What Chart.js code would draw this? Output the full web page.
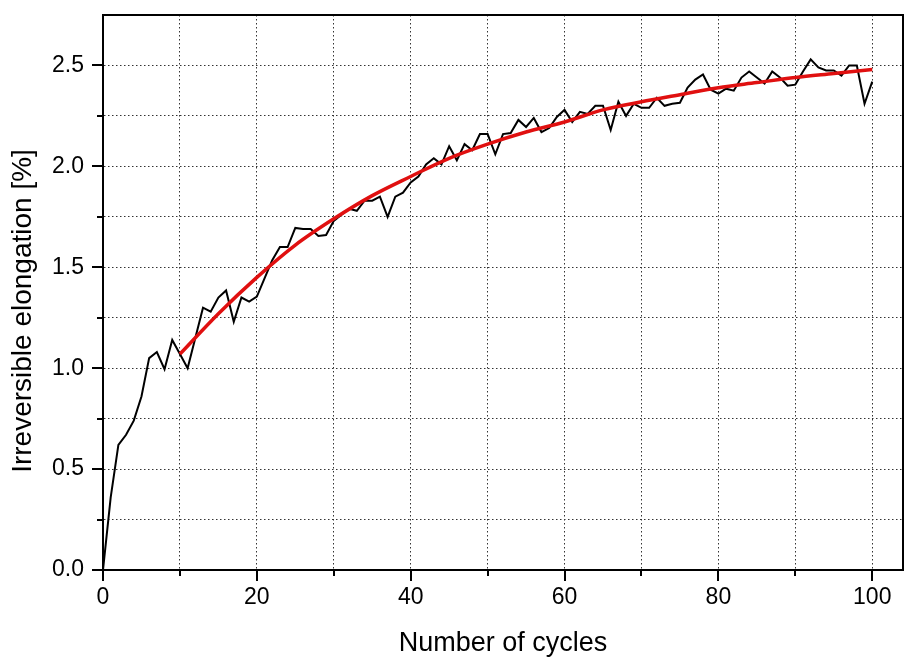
<!DOCTYPE html>
<html>
<head>
<meta charset="utf-8">
<title>Irreversible elongation</title>
<script src="https://cdn.jsdelivr.net/npm/chart.js@4.4.1/dist/chart.umd.min.js"></script>
<style>
    html, body { margin: 0; padding: 0; background: #fff; }
    #wrap { width: 907px; height: 666px; }
</style>
</head>
<body>
<div id="wrap"><canvas id="chart" width="907" height="666"></canvas></div>
<script>
// ==========================================
// Data
// ==========================================
const cycles = [
    0, 1, 2, 3, 4, 5, 6, 7, 8, 9, 10, 11, 12, 13, 14, 15, 16, 17, 18, 19,
    20, 21, 22, 23, 24, 25, 26, 27, 28, 29, 30, 31, 32, 33, 34, 35, 36, 37, 38, 39,
    40, 41, 42, 43, 44, 45, 46, 47, 48, 49, 50, 51, 52, 53, 54, 55, 56, 57, 58, 59,
    60, 61, 62, 63, 64, 65, 66, 67, 68, 69, 70, 71, 72, 73, 74, 75, 76, 77, 78, 79,
    80, 81, 82, 83, 84, 85, 86, 87, 88, 89, 90, 91, 92, 93, 94, 95, 96, 97, 98, 99, 100
];
const elongation = [
    0.00, 0.36, 0.62, 0.67, 0.74, 0.86, 1.05, 1.08, 0.995, 1.14,
    1.07, 1.00, 1.15, 1.30, 1.28, 1.35, 1.385, 1.23, 1.35, 1.33,
    1.355, 1.445, 1.535, 1.60, 1.60, 1.695, 1.69, 1.69, 1.655, 1.66,
    1.73, 1.76, 1.79, 1.78, 1.83, 1.83, 1.85, 1.75, 1.85, 1.87,
    1.92, 1.95, 2.01, 2.04, 2.01, 2.10, 2.03, 2.11, 2.08, 2.16,
    2.16, 2.06, 2.16, 2.165, 2.23, 2.195, 2.24, 2.17, 2.19, 2.245,
    2.28, 2.22, 2.27, 2.26, 2.30, 2.30, 2.18, 2.32, 2.25, 2.31,
    2.29, 2.29, 2.34, 2.30, 2.31, 2.315, 2.39, 2.43, 2.455, 2.38,
    2.36, 2.385, 2.375, 2.44, 2.47, 2.44, 2.41, 2.47, 2.44, 2.40,
    2.405, 2.47, 2.53, 2.49, 2.475, 2.475, 2.45, 2.50, 2.50, 2.31, 2.42
];

// fitted curve (red), sampled every 5 cycles
const fitCycles = [10, 15, 20, 25, 30, 35, 40, 45, 50, 55, 60, 65, 70, 75, 80, 85, 90, 95, 100];
const fitValues = [1.07, 1.27, 1.45, 1.61, 1.74, 1.855, 1.95, 2.04, 2.11, 2.17, 2.22, 2.28, 2.32, 2.355, 2.39, 2.415, 2.44, 2.46, 2.48];

// axes
const xTicks = [0, 10, 20, 30, 40, 50, 60, 70, 80, 90, 100];
const xLabels = [0, 20, 40, 60, 80, 100];
const yTicks = [0, 0.25, 0.5, 0.75, 1, 1.25, 1.5, 1.75, 2, 2.25, 2.5];
const yLabels = [0, 0.5, 1, 1.5, 2, 2.5];

const FONT = "'Liberation Sans', Arial, Helvetica, sans-serif";

// ==========================================
// Frame, tick marks and rotated y title
// ==========================================
const framePlugin = {
    id: 'frame',
    afterDraw(chart) {
        const { ctx, chartArea: a, scales } = chart;
        ctx.save();
        ctx.strokeStyle = '#000';
        ctx.lineWidth = 2;

        // top + right frame
        ctx.beginPath();
        ctx.moveTo(a.left, a.top);
        ctx.lineTo(a.right, a.top);
        ctx.lineTo(a.right, a.bottom);
        ctx.stroke();

        // outward tick marks, long on labelled values
        ctx.beginPath();
        xTicks.forEach(v => {
            const px = Math.round(scales.x.getPixelForValue(v));
            const len = xLabels.includes(v) ? 11 : 6;
            ctx.moveTo(px, a.bottom);
            ctx.lineTo(px, a.bottom + len);
        });
        yTicks.forEach(v => {
            const py = Math.round(scales.y.getPixelForValue(v));
            const len = yLabels.includes(v) ? 11 : 6;
            ctx.moveTo(a.left, py);
            ctx.lineTo(a.left - len, py);
        });
        ctx.stroke();

        // y axis title
        ctx.fillStyle = '#000';
        ctx.font = '28px ' + FONT;
        ctx.textAlign = 'center';
        ctx.textBaseline = 'middle';
        ctx.translate(23, 311);
        ctx.rotate(-Math.PI / 2);
        ctx.fillText('Irreversible elongation [%]', 0, 0);
        ctx.restore();
    }
};

// ==========================================
// Chart
// ==========================================
const ctx = document.getElementById('chart');
new Chart(ctx, {
    type: 'line',
    data: {
        datasets: [
            {
                label: 'Fit',
                data: fitCycles.map((c, i) => ({ x: c, y: fitValues[i] })),
                borderColor: '#e01010',
                borderWidth: 3.5,
                cubicInterpolationMode: 'monotone',
                pointRadius: 0,
                fill: false
            },
            {
                label: 'Measured',
                data: cycles.map((c, i) => ({ x: c, y: elongation[i] })),
                borderColor: '#000',
                borderWidth: 2,
                tension: 0,
                pointRadius: 0,
                fill: false
            }
        ]
    },
    options: {
        responsive: false,
        animation: false,
        layout: { padding: { top: 15, right: 4, left: 0, bottom: 0 } },
        plugins: {
            legend: { display: false },
            tooltip: { enabled: false }
        },
        scales: {
            x: {
                type: 'linear',
                min: 0,
                max: 104,
                afterBuildTicks: s => { s.ticks = xTicks.map(v => ({ value: v })); },
                afterFit: s => { s.height = 96; s.paddingLeft = 0; s.paddingRight = 0; },
                grid: { color: '#333', lineWidth: 1, drawTicks: false },
                border: { display: true, color: '#000', width: 2, dash: [1.5, 2.5] },
                ticks: {
                    autoSkip: false,
                    maxRotation: 0,
                    padding: 14,
                    color: '#000',
                    font: { family: FONT, size: 23 },
                    callback: v => xLabels.includes(v) ? String(v) : ''
                },
                title: {
                    display: true,
                    text: 'Number of cycles',
                    color: '#000',
                    font: { family: FONT, size: 27 },
                    padding: { top: 0, bottom: 6 }
                }
            },
            y: {
                type: 'linear',
                min: 0,
                max: 2.75,
                afterBuildTicks: s => { s.ticks = yTicks.map(v => ({ value: v })); },
                afterFit: s => { s.width = 103; s.paddingTop = 0; s.paddingBottom = 0; },
                grid: { color: '#333', lineWidth: 1, drawTicks: false },
                border: { display: true, color: '#000', width: 2, dash: [1.5, 2.5] },
                ticks: {
                    autoSkip: false,
                    padding: 19,
                    color: '#000',
                    font: { family: FONT, size: 23 },
                    callback: v => yLabels.includes(v) ? v.toFixed(1) : ''
                }
            }
        }
    },
    plugins: [framePlugin]
});
</script>
</body>
</html>
